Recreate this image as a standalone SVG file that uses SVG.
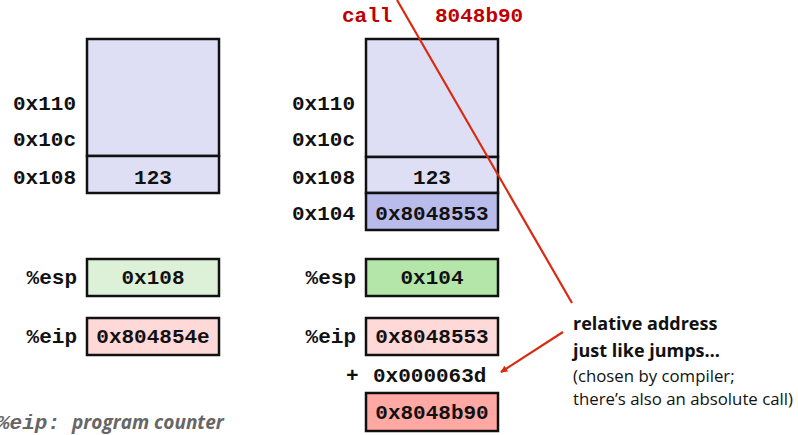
<svg xmlns="http://www.w3.org/2000/svg" width="798" height="435" viewBox="0 0 798 435">
<style>
.mono{font-family:"Liberation Mono","Courier New",monospace;font-weight:bold;font-size:21px;fill:#111}
.lbl{text-anchor:end}
.ctr{text-anchor:middle}
.cell{stroke:#111;stroke-width:2.5}
.ann{font-family:"Open Sans","Liberation Sans",sans-serif;fill:#111}
.red{fill:#c00000}
</style>
<defs>
<marker id="ah" viewBox="0 0 10 10" refX="9" refY="5" markerWidth="7" markerHeight="7" orient="auto" markerUnits="userSpaceOnUse">
<path d="M0,0 L10,5 L0,10 z" fill="#d92a10"/>
</marker>
</defs>
<rect width="798" height="435" fill="#fff"/>

<g id="left-stack">
<rect class="cell" x="87" y="39" width="132" height="117" fill="#dedff5"/>
<rect class="cell" x="87" y="156" width="132" height="37" fill="#dedff5"/>
<text class="mono ctr" x="153" y="184">123</text>
<text class="mono lbl" x="76" y="110">0x110</text>
<text class="mono lbl" x="76" y="146">0x10c</text>
<text class="mono lbl" x="76" y="184">0x108</text>
</g>

<g id="left-esp">
<rect class="cell" x="87" y="259" width="132" height="37" fill="#ddf1d8"/>
<text class="mono ctr" x="153" y="284">0x108</text>
<text class="mono lbl" x="77" y="284">%esp</text>
</g>
<g id="left-eip">
<rect class="cell" x="87" y="318" width="132" height="37" fill="#ffd8d8"/>
<text class="mono ctr" x="153" y="343">0x804854e</text>
<text class="mono lbl" x="77" y="343">%eip</text>
</g>

<g id="call">
<text class="mono red" x="342" y="22">call</text>
<text class="mono red" x="435" y="22">8048b90</text>
</g>

<g id="right-stack">
<rect class="cell" x="366" y="39" width="132" height="118" fill="#dedff5"/>
<rect class="cell" x="366" y="157" width="132" height="36" fill="#dedff5"/>
<rect class="cell" x="366" y="193" width="132" height="37" fill="#b9bbeb"/>
<text class="mono ctr" x="432" y="184">123</text>
<text class="mono ctr" x="432" y="220">0x8048553</text>
<text class="mono lbl" x="355" y="110">0x110</text>
<text class="mono lbl" x="355" y="146">0x10c</text>
<text class="mono lbl" x="355" y="184">0x108</text>
<text class="mono lbl" x="355" y="220">0x104</text>
</g>

<g id="right-esp">
<rect class="cell" x="366" y="259" width="132" height="37" fill="#b3e6a8"/>
<text class="mono ctr" x="432" y="284">0x104</text>
<text class="mono lbl" x="356" y="284">%esp</text>
</g>
<g id="right-eip">
<rect class="cell" x="366" y="318" width="132" height="37" fill="#ffd8d8"/>
<text class="mono ctr" x="432" y="343">0x8048553</text>
<text class="mono lbl" x="356" y="343">%eip</text>
</g>
<g id="offset">
<text class="mono" x="346" y="382">+</text>
<text class="mono" x="373" y="382">0x000063d</text>
</g>
<g id="target">
<rect class="cell" x="366" y="393" width="132" height="38" fill="#ffa8a4"/>
<text class="mono ctr" x="432" y="419">0x8048b90</text>
</g>

<g id="note">
<text class="ann" font-weight="bold" font-size="18" x="573" y="330">relative address</text>
<text class="ann" font-weight="bold" font-size="18" x="573" y="357">just like jumps…</text>
<text class="ann" font-size="16.8" x="573" y="382">(chosen by compiler;</text>
<text class="ann" font-size="16.8" x="573" y="405">there’s also an absolute call)</text>
</g>

<g id="caption">
<text x="-3" y="429" font-family="Liberation Mono, monospace" font-weight="bold" font-style="italic" font-size="21" fill="#666">%eip:</text>
<text x="72" y="429" font-family="Open Sans, Liberation Sans, sans-serif" font-weight="bold" font-style="italic" font-size="19" fill="#666">program counter</text>
</g>

<g id="connectors" stroke="#d92a10" stroke-width="2.2" fill="none">
<line x1="397" y1="0" x2="572" y2="303"/>
<line x1="563" y1="332" x2="501" y2="372" marker-end="url(#ah)"/>
</g>
</svg>
